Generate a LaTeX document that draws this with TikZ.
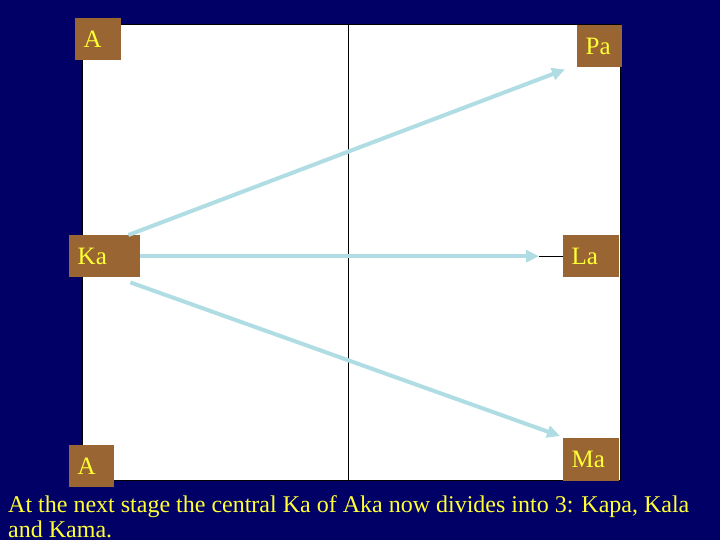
\documentclass[tikz,border=0pt]{standalone}
\usepackage{fontspec}
\setmainfont{Liberation Serif}
\usetikzlibrary{arrows.meta}
\definecolor{navy}{RGB}{0,0,102}
\definecolor{tile}{RGB}{153,102,51}
\definecolor{txt}{RGB}{255,255,51}
\definecolor{arrowc}{RGB}{176,221,228}
\begin{document}
\begin{tikzpicture}[x=1pt,y=-1pt,
  tilebox/.style={fill=tile, inner ysep=0pt, inner xsep=8.5pt, anchor=north west, align=left, text=txt, font=\fontsize{25}{28}\selectfont},
  captext/.style={anchor=base west, text=txt, font=\fontsize{24}{26}\selectfont, inner sep=0pt},
  arr/.style={draw=arrowc, line width=4pt, -{Triangle[length=13pt,width=12pt]}}]
\useasboundingbox (0,0) rectangle (720,540);
\fill[navy] (0,0) rectangle (720,540);
\draw[black, line width=1pt, fill=white] (82,25) rectangle (620,480);
\draw[black, line width=0.8pt] (348,25) -- (348,480);
\node[tilebox, text width=29pt, minimum height=42pt] (A1) at (75,18) {A};
\node[tilebox, text width=28pt, minimum height=42pt] (Pa) at (577,25) {Pa};
\node[tilebox, text width=54pt, minimum height=42pt] (Ka) at (69,235) {Ka};
\node[tilebox, text width=39pt, minimum height=42pt] (La) at (563,235) {La};
\node[tilebox, text width=28pt, minimum height=42pt] (A2) at (69,445) {A};
\node[tilebox, text width=39pt, minimum height=43pt] (Ma) at (563,438) {Ma};
\coordinate (Lin) at ([xshift=-24pt]La.west);
\draw[black, line width=0.8pt] (Lin) -- (La.west);
\draw[arr] ([xshift=-12pt]Ka.north east) -- ([xshift=-12pt,yshift=-2pt]Pa.south west);
\draw[arr] (Ka.east) -- (Lin);
\draw[arr] ([xshift=-10pt,yshift=-5pt]Ka.south east) -- ([xshift=-3pt,yshift=2pt]Ma.north west);
\node[captext] (cap1) at (8,512) {At the next stage the central Ka of Aka now divides into 3: Kapa, Kala};
\node[captext] (cap2) at (8,537) {and Kama.};
\end{tikzpicture}
\end{document}
